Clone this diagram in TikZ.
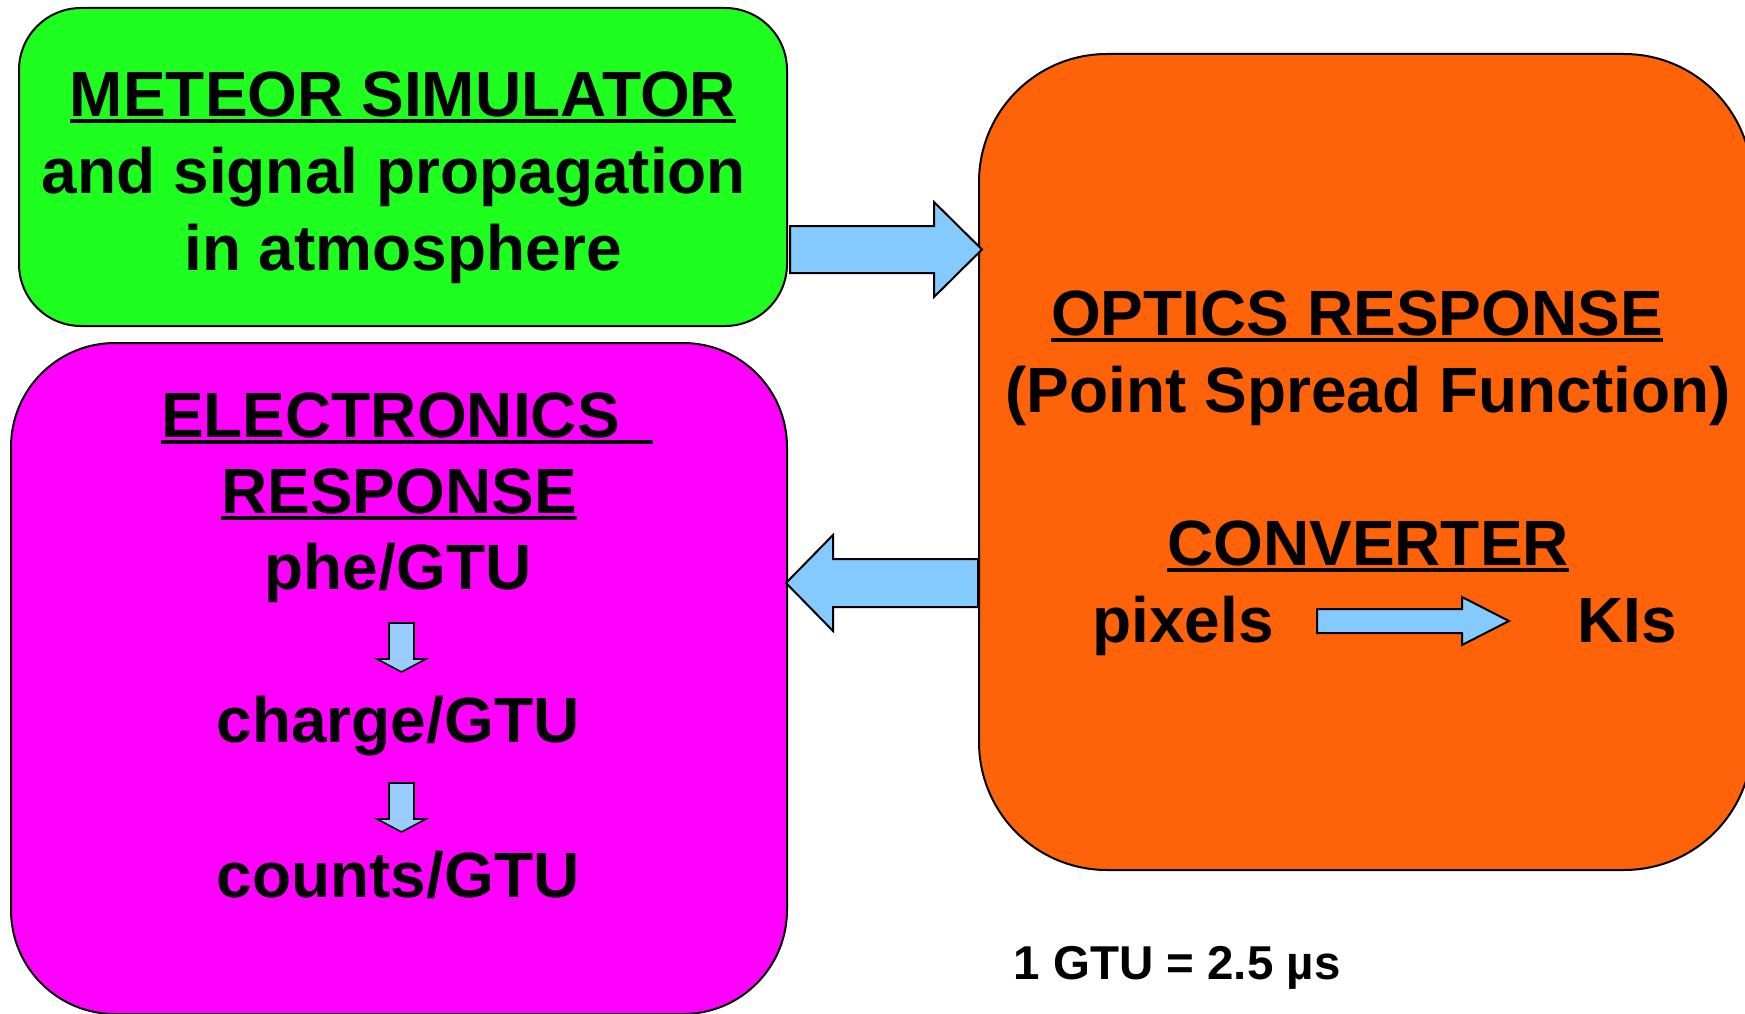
\documentclass[tikz,border=0pt]{standalone}
\usepackage{fontspec}
\setmainfont{Liberation Sans}

% underline drawn as a rule sitting just below the baseline
\newcommand{\ulin}[2][0pt]{\begingroup\setbox0=\hbox{#2}%
  \rlap{\rule[-6.5pt]{\dimexpr\wd0+#1\relax}{4pt}}\box0\endgroup}

\definecolor{simgreen}{HTML}{1FFF1F}
\definecolor{optorange}{HTML}{FF6309}
\definecolor{elecmagenta}{HTML}{FF00FF}
\definecolor{flowblue}{HTML}{85CAFF}
\definecolor{stepblue}{HTML}{99CCFF}

\begin{document}
\begin{tikzpicture}[x=1pt,y=-1pt,
  panel/.style={draw=black,line width=2pt},
  blockarrow/.style={draw=black,line width=2pt,line join=miter,fill=flowblue},
  steparrow/.style={draw=black,line width=1.6pt,line join=miter,fill=stepblue},
  bigtext/.style={inner sep=0pt,anchor=base,font=\fontsize{64}{76}\selectfont\bfseries},
  smalltext/.style={inner sep=0pt,anchor=base,font=\fontsize{47.5}{56}\selectfont\bfseries}]

\useasboundingbox (0,0) rectangle (1745,1014);

% three blocks
\draw[panel,fill=simgreen,rounded corners=62pt] (19,8) rectangle (787,326);
\draw[panel,fill=optorange,rounded corners=128pt] (979,54) rectangle (1752,870);
\draw[panel,fill=elecmagenta,rounded corners=104pt] (11,343) rectangle (787,1014);

% flow between the blocks
\draw[blockarrow] (790,226) -- (934,226) -- (934,202) -- (982,249.5)
  -- (934,297) -- (934,273) -- (790,273) -- cycle;
\draw[blockarrow] (978,559) -- (833,559) -- (833,535) -- (786,583)
  -- (833,631) -- (833,607) -- (978,607) -- cycle;

% meteor simulator
\node[bigtext] (sim1) at (403,117) {\ulin{METEOR SIMULATOR}};
\node[bigtext] (sim2) at (394,193) {and signal propagation};
\node[bigtext] (sim3) at (403,270) {in atmosphere};

% optics and converter
\node[bigtext] (opt1) at (1357,335) {\ulin{OPTICS RESPONSE}};
\node[bigtext] (opt2) at (1368,412) {(Point Spread Function)};
\node[bigtext] (conv) at (1368,565) {\ulin{CONVERTER}};
\node[bigtext] (pix) at (1183,642) {pixels};
\node[bigtext] (kis) at (1627,642) {KIs};
\draw[blockarrow] (1317,609) -- (1462,609) -- (1462,597) -- (1509,621)
  -- (1462,645) -- (1462,633) -- (1317,633) -- cycle;

% electronics chain
\node[bigtext,anchor=base west] (el1) at (161,437) {\ulin[33pt]{ELECTRONICS}};
\node[bigtext] (el2) at (399,513) {\ulin{RESPONSE}};
\node[bigtext] (phe) at (398,589) {phe/GTU};
\node[bigtext] (chg) at (398,742) {charge/GTU};
\node[bigtext] (cnt) at (398,897) {counts/GTU};
\draw[steparrow] (389,623) -- (414,623) -- (414,659) -- (426,659) -- (401.5,672)
  -- (377,659) -- (389,659) -- cycle;
\draw[steparrow] (389,783) -- (414,783) -- (414,819) -- (426,819) -- (401.5,832)
  -- (377,819) -- (389,819) -- cycle;

% time unit
\node[smalltext] (gtu) at (1177,979) {1 GTU = 2.5 µs};
\end{tikzpicture}
\end{document}
